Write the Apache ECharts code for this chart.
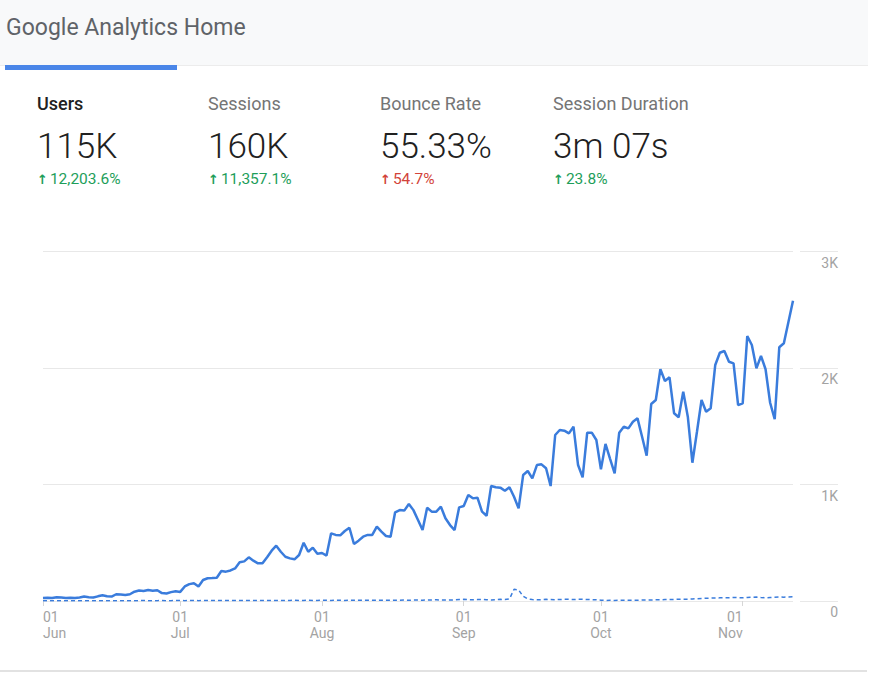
<!DOCTYPE html>
<html>
<head>
<meta charset="utf-8">
<title>Google Analytics Home</title>
<script src="https://cdn.jsdelivr.net/npm/echarts@6/dist/echarts.min.js"></script>
<style>
  html, body { margin: 0; padding: 0; background: #fff; }
  body { width: 886px; height: 676px; position: relative; overflow: hidden; font-family: Roboto, "Noto Sans", sans-serif; }
  #chart { position: absolute; left: 0; top: 0; width: 886px; height: 676px; }
  .head { position: absolute; left: 0; top: 0; width: 868px; height: 65px; background: #f8f9fa; border-bottom: 1px solid #ececec; }
  .title { position: absolute; left: 6px; top: 16px; font-size: 23px; line-height: 23px; color: #5f6368; white-space: nowrap; }
  .tab { position: absolute; left: 5px; top: 65px; width: 172px; height: 5px; background: #4a86e8; }
  .kpi { position: absolute; top: 0; white-space: nowrap; }
  .kpi .name { position: absolute; top: 95px; font-size: 18px; line-height: 18px; color: #757575; }
  .kpi .name.on { color: #212121; font-weight: 500; }
  .kpi .val { position: absolute; top: 129px; font-size: 35px; line-height: 35px; color: #212121; font-weight: 300; }
  .kpi .chg { position: absolute; top: 172px; font-size: 15.5px; line-height: 15px; }
  .kpi .chg b { font-family: "DejaVu Sans", sans-serif; font-size: 13px; margin-right: 2px; }
  .up { color: #1e9e5a; }
  .bad { color: #d2433a; }
  .bottom { position: absolute; left: 0; top: 670px; width: 867px; height: 2px; background: #e2e2e2; }
</style>
</head>
<body>
<div id="chart"></div>
<div class="head"><div class="title">Google Analytics Home</div></div>
<div class="tab"></div>
<div id="kpis"></div>
<div class="bottom"></div>
<script>
// KPI cards
var kpiNames = ['Users', 'Sessions', 'Bounce Rate', 'Session Duration'];
var kpiValues = ['115K', '160K', '55.33%', '3m 07s'];
var kpiChanges = ['12,203.6%', '11,357.1%', '54.7%', '23.8%'];
var kpiGood = [true, true, false, true];

// daily users, 01 Jun .. 12 Nov
var startDate = [2019, 5, 1];
var users = [
  25, 28, 25, 33, 30, 26, 27, 25, 30, 38,
  33, 30, 40, 49, 40, 38, 58, 55, 52, 58,
  80, 90, 86, 94, 88, 92, 68, 64, 76, 84,
  78, 125, 145, 152, 125, 180, 195, 197, 200, 258,
  252, 262, 280, 332, 340, 375, 346, 323, 323, 375,
  432, 475, 423, 380, 366, 358, 395, 500, 423, 458,
  406, 412, 390, 581, 567, 564, 601, 629, 489, 518,
  552, 567, 567, 638, 595, 558, 552, 761, 781, 776,
  833, 780, 695, 609, 801, 767, 767, 810, 710, 652,
  609, 804, 815, 910, 881, 887, 767, 732, 987, 976,
  973, 947, 976, 895, 795, 1082, 1116, 1053, 1167, 1173,
  1139, 987, 1425, 1468, 1462, 1439, 1496, 1167, 1062, 1445,
  1445, 1382, 1130, 1348, 1220, 1096, 1445, 1496, 1482, 1539,
  1568, 1410, 1247, 1691, 1725, 1989, 1888, 1920, 1611, 1577,
  1797, 1582, 1187, 1453, 1725, 1625, 1654, 2026, 2131, 2146,
  2054, 2040, 1682, 1697, 2275, 2197, 1997, 2103, 1989, 1702,
  1560, 2178, 2212, 2395, 2578
];
// previous period (dashed)
var usersPrev = [
  2, 2, 3, 2, 2, 3, 2, 2, 3, 2,
  3, 2, 3, 3, 2, 3, 3, 3, 2, 3,
  3, 3, 4, 3, 3, 3, 4, 3, 3, 4,
  4, 3, 4, 4, 3, 4, 4, 5, 4, 4,
  4, 5, 4, 4, 5, 4, 5, 5, 4, 5,
  5, 5, 4, 5, 5, 6, 5, 5, 6, 5,
  5, 6, 6, 5, 6, 6, 5, 6, 6, 6,
  6, 7, 6, 6, 7, 7, 6, 7, 7, 8,
  7, 8, 8, 7, 8, 9, 10, 9, 8, 9,
  10, 12, 14, 12, 10, 12, 13, 11, 9, 12,
  14, 12, 18, 100, 95, 40, 18, 12, 10, 12,
  14, 12, 11, 13, 15, 14, 12, 16, 15, 13,
  12, 10, 7, 5, 6, 5, 6, 7, 6, 6,
  7, 8, 8, 9, 10, 10, 12, 13, 14, 15,
  16, 16, 18, 20, 22, 24, 25, 26, 27, 28,
  28, 30, 29, 28, 30, 32, 34, 30, 28, 30,
  32, 34, 33, 35, 36
];
var monthNames = ['Jan', 'Feb', 'Mar', 'Apr', 'May', 'Jun', 'Jul', 'Aug', 'Sep', 'Oct', 'Nov', 'Dec'];
var yTicks = [0, 1000, 2000, 3000];
var yTickLabels = ['0', '1K', '2K', '3K'];

// build the day list
var days = [];
for (var i = 0; i < users.length; i++) {
  var d = new Date(startDate[0], startDate[1], startDate[2] + i);
  days.push({ m: d.getMonth(), day: d.getDate() });
}
var categories = days.map(function (d) {
  return monthNames[d.m] + ' ' + (d.day < 10 ? '0' : '') + d.day;
});
var lastFirst = -1;
days.forEach(function (d, i) { if (d.day === 1) lastFirst = i; });
var xData = categories.map(function (c, i) {
  if (i === 0) return { value: c, textStyle: { align: 'left' } };
  if (i === lastFirst) return { value: c, textStyle: { align: 'right' } };
  return c;
});
function isFirst(index) { return days[index].day === 1; }

// kpi html
var box = document.getElementById('kpis');
var kpiX = [37, 208, 380, 553];
for (var k = 0; k < kpiNames.length; k++) {
  var el = document.createElement('div');
  el.className = 'kpi';
  el.style.left = kpiX[k] + 'px';
  el.innerHTML =
    '<div class="name' + (k === 0 ? ' on' : '') + '">' + kpiNames[k] + '</div>' +
    '<div class="val">' + kpiValues[k] + '</div>' +
    '<div class="chg ' + (kpiGood[k] ? 'up' : 'bad') + '"><b>\u2191</b>' + kpiChanges[k] + '</div>';
  box.appendChild(el);
}

var blue = '#3a7cdc';
var gridColor = '#e8e8e8';
var labelColor = '#a3a3a3';

var myChart = echarts.init(document.getElementById('chart'), null, { renderer: 'svg' });
var option = {
  animation: false,
  grid: [
    { left: 43, right: 93, top: 251.5, bottom: 75 },
    { left: 800, right: 48, top: 251.5, bottom: 75 }
  ],
  xAxis: [{
    type: 'category',
    gridIndex: 0,
    data: xData,
    boundaryGap: false,
    axisLine: { show: false },
    axisTick: {
      show: true, length: 5, interval: isFirst,
      lineStyle: { color: '#d6d6d6' }
    },
    axisLabel: {
      interval: isFirst,
      color: labelColor,
      fontFamily: 'Roboto',
      fontSize: 14,
      lineHeight: 16,
      margin: 8,
      formatter: function (v, i) { return '01\n' + v.slice(0, 3); }
    },
    splitLine: { show: false }
  }, {
    type: 'value',
    gridIndex: 1,
    show: false
  }],
  yAxis: [{
    type: 'value',
    gridIndex: 0,
    min: yTicks[0], max: yTicks[yTicks.length - 1], interval: 1000,
    axisLabel: { show: false },
    axisLine: { show: false },
    axisTick: { show: false },
    splitLine: { lineStyle: { color: gridColor, width: 1 } }
  }, {
    type: 'value',
    gridIndex: 1,
    position: 'right',
    min: yTicks[0], max: yTicks[yTicks.length - 1], interval: 1000,
    axisLine: { show: false },
    axisTick: { show: false },
    splitLine: { lineStyle: { color: gridColor, width: 1 } },
    axisLabel: {
      color: labelColor,
      fontFamily: 'Roboto',
      fontSize: 14,
      align: 'right',
      verticalAlign: 'top',
      margin: 0,
      padding: [4, 0, 0, 0],
      formatter: function (v) { return yTickLabels[yTicks.indexOf(v)]; }
    }
  }],
  series: [{
    name: 'Users (previous)',
    type: 'line',
    xAxisIndex: 0, yAxisIndex: 0,
    data: usersPrev,
    showSymbol: false,
    lineStyle: { color: blue, width: 1.5, type: [4, 3] },
    z: 3
  }, {
    name: 'Users',
    type: 'line',
    xAxisIndex: 0, yAxisIndex: 0,
    data: users,
    showSymbol: false,
    lineStyle: { color: blue, width: 2.5 },
    z: 4
  }]
};
myChart.setOption(option);
window.onresize = myChart.resize;
</script>
</body>
</html>
